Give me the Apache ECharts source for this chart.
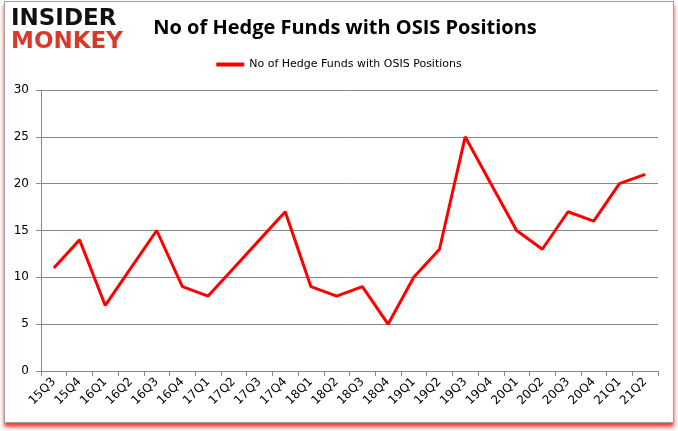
<!DOCTYPE html>
<html><head><meta charset="utf-8">
<script src="https://cdn.jsdelivr.net/npm/echarts@6/dist/echarts.min.js"></script>
<style>
html,body{margin:0;padding:0;background:#fff;}
#wrap{position:absolute;left:4px;top:1px;width:668px;height:420px;border:1px solid #a0a0a0;box-shadow:0 4px 4px rgba(255,0,0,0.8);background:#fff;}
#c{position:absolute;left:0;top:0;width:678px;height:431px;}
</style></head>
<body>
<div id="wrap"></div>
<div id="c"></div>
<script>
const categories = ["15Q3","15Q4","16Q1","16Q2","16Q3","16Q4","17Q1","17Q2","17Q3","17Q4","18Q1","18Q2","18Q3","18Q4","19Q1","19Q2","19Q3","19Q4","20Q1","20Q2","20Q3","20Q4","21Q1","21Q2"];
const funds = [11,14,7,11,15,9,8,11,14,17,9,8,9,5,10,13,25,20,15,13,17,16,20,21];
const seriesName = "No of Hedge Funds with OSIS Positions";
const titleText = "No of Hedge Funds with OSIS Positions";

const chart = echarts.init(document.getElementById('c'), null, {renderer:'canvas'});
chart.setOption({
  animation:false,
  backgroundColor:'transparent',
  graphic:[
    {type:'text', left:11, top:8, style:{text:'INSIDER', font:'900 23px "DejaVu Sans"', fill:'#111'}},
    {type:'text', left:11, top:31, style:{text:'MONKEY', font:'900 23px "DejaVu Sans"', fill:'#d63a2b'}}
  ],
  title:{text:titleText, left:340, top:13, textAlign:'center',
    textStyle:{fontFamily:'"Open Sans", "DejaVu Sans", sans-serif', fontSize:20, fontWeight:'bold', color:'#000'}},
  legend:{top:54, left:'center', itemWidth:28, itemHeight:4, icon:'rect', itemGap:5,
    textStyle:{fontFamily:'"DejaVu Sans", sans-serif', fontSize:11, color:'#000'},
    data:[seriesName]},
  grid:{left:41, right:20, top:90, bottom:60},
  xAxis:{type:'category', data:categories, boundaryGap:true,
    axisLine:{lineStyle:{color:'#888'}},
    axisTick:{show:true, alignWithLabel:false, length:5, lineStyle:{color:'#888'}},
    axisLabel:{rotate:45, color:'#000', fontFamily:'"DejaVu Sans", sans-serif', fontSize:12, margin:9, interval:0}},
  yAxis:{type:'value', min:0, max:30, interval:5,
    axisLine:{show:true, lineStyle:{color:'#888'}},
    axisTick:{show:true, length:5, lineStyle:{color:'#888'}},
    splitLine:{lineStyle:{color:'#888', width:1}},
    axisLabel:{color:'#000', fontFamily:'"DejaVu Sans", sans-serif', fontSize:12, margin:12}},
  series:[{name:seriesName, type:'line', data:funds, symbol:'none',
    lineStyle:{color:'#ff0000', width:3}, itemStyle:{color:'#ff0000'}}]
});
</script>
</body></html>
